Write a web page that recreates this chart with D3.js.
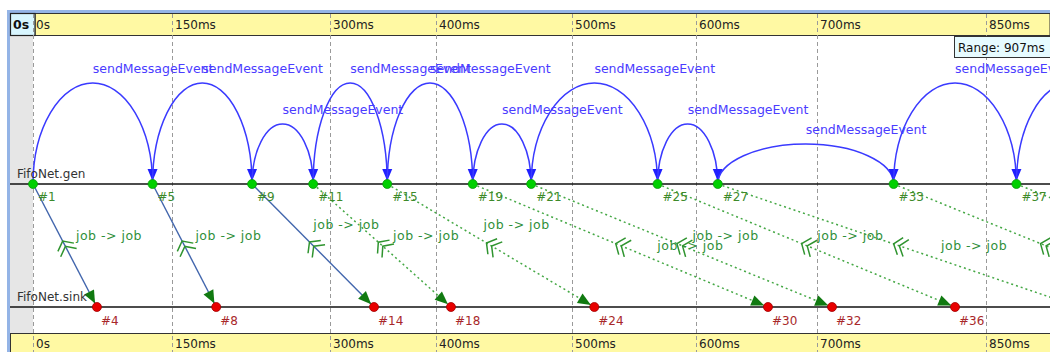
<!DOCTYPE html>
<html><head><meta charset="utf-8">
<script src="https://cdn.jsdelivr.net/npm/d3@7"></script>
<style>body{margin:0;background:#fff;} svg{display:block;font-family:"DejaVu Sans",sans-serif;}</style>
</head><body><svg id="c" width="1050" height="352"></svg>
<script>
// ---------- data ----------
const tickTimes  = [0, 150, 300, 400, 500, 600, 700, 850];          // ms
const tickLabels = ["0s","150ms","300ms","400ms","500ms","600ms","700ms","850ms"];
const rangeLabel = "Range: 907ms";
const axisNames  = ["FifoNet.gen", "FifoNet.sink"];

const genIds   = [1, 5, 9, 11, 15, 19, 21, 25, 27, 33, 37, 41];
const genTimes = [0, 129, 226, 284, 354, 427, 470, 569, 618, 768, 877, 973];
const sinkIds   = [4, 8, 14, 18, 24, 30, 32, 36, 40, 44, 48];
const sinkTimes = [69, 192, 341.5, 411, 518, 659.5, 713.3, 822.5, 932.5, 1037, 1146];

// self messages (sendMessageEvent) on FifoNet.gen
const selfFrom  = [1, 5, 9, 11, 15, 19, 21, 25, 27, 33, 37];
const selfTo    = [5, 9, 11, 15, 19, 21, 25, 27, 33, 37, 41];
const selfLevel = [0, 0, 1, 0, 0, 1, 0, 1, 2, 0, 0];
const selfName  = "sendMessageEvent";

// job messages gen -> sink
const jobFrom   = [1, 5, 9, 11, 15, 19, 21, 25, 27, 33, 37];
const jobTo     = [4, 8, 14, 18, 24, 30, 32, 36, 40, 44, 48];
const jobDirect = [true, true, true, false, false, false, false, false, false, false, false];
const jobRow    = [0, 0, -1, 0, -1, 1, 0, 0, 1, 0, 0];
const jobName   = "job -> job";

// ---------- layout ----------
const W = 1050, H = 352;
const GEN_Y = 184, SINK_Y = 307;
const tickStops = [33, 172, 330, 436, 572, 696, 817, 986]; // nonlinear time axis stops
const x = d3.scaleLinear().domain(tickTimes).range(tickStops);
const arcPeak = d3.scaleOrdinal().domain([0, 1, 2]).range([83, 124, 144]);

const genT = new Map(genIds.map((id, i) => [id, genTimes[i]]));
const sinkT = new Map(sinkIds.map((id, i) => [id, sinkTimes[i]]));

const svg = d3.select("#c");
const defs = svg.append("defs");
defs.append("clipPath").attr("id", "clip").append("rect")
  .attr("x", 10).attr("y", 36).attr("width", W - 10).attr("height", 297);

function marker(id, color, len, half, back) {
  defs.append("marker").attr("id", id)
    .attr("markerUnits", "userSpaceOnUse")
    .attr("viewBox", `0 ${-half} ${len} ${half * 2}`)
    .attr("markerWidth", len).attr("markerHeight", half * 2)
    .attr("refX", len + back).attr("refY", 0).attr("orient", "auto")
    .attr("overflow", "visible")
    .append("path").attr("d", `M0,${-half}L${len},0L0,${half}Z`).attr("fill", color);
}
marker("arrBlue", "#2020ff", 12, 5, 3);
marker("arrGreen", "#117a11", 13, 5.5, 4);

// backgrounds
svg.append("rect").attr("x", 0).attr("y", 0).attr("width", W).attr("height", H).attr("fill", "#fff");
svg.append("rect").attr("x", 7).attr("y", 10).attr("width", W - 7).attr("height", 3).attr("fill", "#94b4e6");
svg.append("rect").attr("x", 7).attr("y", 10).attr("width", 3).attr("height", H - 10).attr("fill", "#94b4e6");
svg.append("rect").attr("x", 10).attr("y", 36).attr("width", 23).attr("height", 297).attr("fill", "#e6e6e6");

// top band
svg.append("rect").attr("x", 35).attr("y", 13.5).attr("width", W - 35).attr("height", 22)
  .attr("fill", "#fff9a3").attr("stroke", "#333").attr("stroke-width", 1);
svg.append("rect").attr("x", 10.5).attr("y", 13.5).attr("width", 24.5).attr("height", 22)
  .attr("fill", "#d8f6ff").attr("stroke", "#222").attr("stroke-width", 1.2);
svg.append("text").attr("x", 13).attr("y", 29).attr("font-size", 12.5).attr("font-weight", "bold")
  .attr("fill", "#111").text(tickLabels[0]);
// bottom band
svg.append("rect").attr("x", 10.5).attr("y", 333.5).attr("width", W - 10).attr("height", 20)
  .attr("fill", "#fff9a3").attr("stroke", "#333").attr("stroke-width", 1);

// gridlines
svg.append("g").selectAll("line").data(tickTimes).join("line")
  .attr("x1", d => x(d) + 0.5).attr("x2", d => x(d) + 0.5)
  .attr("y1", 14).attr("y2", H)
  .attr("stroke", "#9a9a9a").attr("stroke-dasharray", "4,3").attr("stroke-width", 1);

// tick labels
[28.5, 348].forEach(yy => {
  svg.append("g").selectAll("text").data(tickTimes).join("text")
    .attr("x", d => x(d) + 3).attr("y", yy).attr("font-size", 12).attr("fill", "#222")
    .text((d, i) => tickLabels[i]);
});

// axis lines
[GEN_Y, SINK_Y].forEach(yy => {
  svg.append("line").attr("x1", 10).attr("x2", W).attr("y1", yy).attr("y2", yy)
    .attr("stroke", "#111").attr("stroke-width", 1.6);
});

const plot = svg.append("g").attr("clip-path", "url(#clip)");

// self-message arcs
const selfData = selfFrom.map((f, i) => ({
  x1: x(genT.get(f)), x2: x(genT.get(selfTo[i])), peak: arcPeak(selfLevel[i])
}));
plot.append("g").selectAll("path").data(selfData).join("path")
  .attr("d", d => {
    const rx = (d.x2 - d.x1) / 2, ry = GEN_Y - d.peak;
    return `M${d.x1},${GEN_Y}A${rx},${ry} 0 0 1 ${d.x2},${GEN_Y}`;
  })
  .attr("fill", "none").attr("stroke", "#3a3aff").attr("stroke-width", 1.5)
  .attr("marker-end", "url(#arrBlue)");
plot.append("g").selectAll("text").data(selfData).join("text")
  .attr("x", d => (d.x1 + d.x2) / 2).attr("y", d => d.peak - 10)
  .attr("font-size", 12.5).attr("fill", "#4a3cff").text(selfName);

// job messages
const jobData = jobFrom.map((f, i) => {
  const xs = x(genT.get(f)), xe = x(sinkT.get(jobTo[i]));
  return { xs, xe, direct: jobDirect[i], row: jobRow[i] };
});
plot.append("g").selectAll("line").data(jobData).join("line")
  .attr("x1", d => d.xs).attr("y1", GEN_Y).attr("x2", d => d.xe).attr("y2", SINK_Y)
  .attr("stroke", d => d.direct ? "#4266ad" : "#45a845")
  .attr("stroke-width", d => d.direct ? 1.4 : 1.5)
  .attr("stroke-dasharray", d => d.direct ? null : "2,3")
  .attr("marker-end", "url(#arrGreen)");

// split symbols at midpoints
const midY = (GEN_Y + SINK_Y) / 2;
plot.append("g").selectAll("g").data(jobData).join("g")
  .attr("transform", d => {
    const mx = (d.xs + d.xe) / 2;
    const ang = Math.atan2(SINK_Y - GEN_Y, d.xe - d.xs) * 180 / Math.PI;
    return `translate(${mx},${midY}) rotate(${ang})`;
  })
  .each(function () {
    const g = d3.select(this);
    [-3, 3].forEach(o => {
      g.append("path").attr("d", `M${o + 5},-9L${o - 2},0L${o + 5},9`)
        .attr("fill", "none").attr("stroke", "#2f942f").attr("stroke-width", 1.5);
    });
  });

// job labels
plot.append("g").selectAll("text").data(jobData).join("text")
  .attr("x", d => {
    const yr = midY + d.row * 10.8;
    return d.xs + (yr - GEN_Y) * (d.xe - d.xs) / (SINK_Y - GEN_Y) + 11;
  })
  .attr("y", d => midY + d.row * 10.8 - 6)
  .attr("font-size", 12.5).attr("letter-spacing", 0.5).attr("fill", "#2f8f3a").text(jobName);

// axis names
[[GEN_Y, axisNames[0]], [SINK_Y, axisNames[1]]].forEach(([yy, name]) => {
  svg.append("text").attr("x", 17).attr("y", yy - 6).attr("font-size", 12)
    .attr("fill", "#333").text(name);
});

// events
const genData = genIds.map((id, i) => ({ id, x: x(genTimes[i]) }));
const sinkData = sinkIds.map((id, i) => ({ id, x: x(sinkTimes[i]) }));
plot.append("g").selectAll("circle").data(genData).join("circle")
  .attr("cx", d => d.x).attr("cy", GEN_Y).attr("r", 4.5)
  .attr("fill", "#00d000").attr("stroke", "#0a9a0a").attr("stroke-width", 0.8);
plot.append("g").selectAll("text").data(genData).join("text")
  .attr("x", d => d.x + 5).attr("y", GEN_Y + 17).attr("font-size", 12)
  .attr("fill", "#3d8a2a").text(d => "#" + d.id);
plot.append("g").selectAll("circle").data(sinkData).join("circle")
  .attr("cx", d => d.x).attr("cy", SINK_Y).attr("r", 4.5)
  .attr("fill", "#e80000").attr("stroke", "#a00000").attr("stroke-width", 0.8);
plot.append("g").selectAll("text").data(sinkData).join("text")
  .attr("x", d => d.x + 4).attr("y", SINK_Y + 18).attr("font-size", 12)
  .attr("fill", "#a8282a").text(d => "#" + d.id);

// range box
svg.append("rect").attr("x", 954.5).attr("y", 36.5).attr("width", 100).attr("height", 21)
  .attr("fill", "#e6fbff").attr("stroke", "#333").attr("stroke-width", 1);
svg.append("text").attr("x", 958).attr("y", 52).attr("font-size", 12).attr("fill", "#111").text(rangeLabel);
</script></body></html>
